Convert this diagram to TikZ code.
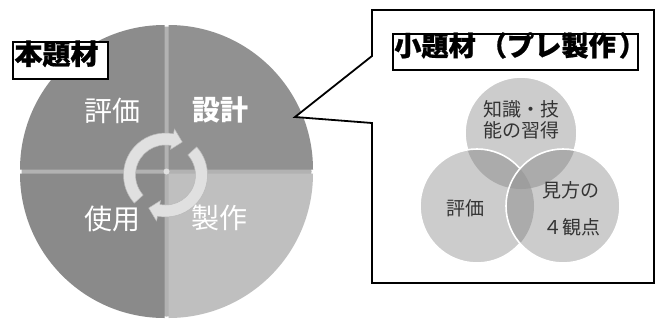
\documentclass[tikz,border=0pt]{standalone}
\usepackage{fontspec}
\setmainfont{Noto Sans CJK JP}
\newfontfamily\heavyjp{Noto Sans CJK JP}[BoldFeatures={FakeBold=0.8}]
\definecolor{qtl}{gray}{0.55}
\definecolor{qtr}{gray}{0.57}
\definecolor{qbl}{gray}{0.54}
\definecolor{qbr}{gray}{0.75}
\definecolor{qgap}{gray}{0.70}
\definecolor{arrowc}{gray}{0.88}
\definecolor{arrowe}{gray}{0.72}
\definecolor{vone}{gray}{0.80}
\definecolor{vtwo}{gray}{0.67}
\definecolor{vthree}{gray}{0.62}
\definecolor{vtext}{gray}{0.2}
\tikzset{
  cjk/.style={inner sep=0pt, text height=0.88em, text depth=0.12em},
  biglbl/.style={cjk, text=white, font=\fontsize{28}{30}\selectfont},
  ttl/.style={cjk, text=black, font=\fontsize{28}{30}\selectfont\heavyjp\bfseries},
  frame/.style={draw=black, line width=1.2pt, fill=white, inner sep=0pt},
  vlbl/.style={cjk, text=vtext, font=\fontsize{19}{21}\selectfont},
  cyc/.style={fill=arrowc, draw=arrowe, line width=0.5pt, line join=round},
}
\begin{document}
\begin{tikzpicture}[x=1pt,y=1pt]
\useasboundingbox (0,0) rectangle (656,-322);
\fill[white] (0,0) rectangle (656,-322);
% main circle
\fill[qgap] (166.5,-171.5) circle (145);
\fill[qtl] (164.5,-169.5) -- ++(180:144.5) arc[start angle=180,end angle=90,radius=144.5] -- cycle;
\fill[qtr] (168.5,-169.5) -- ++(90:144.5) arc[start angle=90,end angle=0,radius=144.5] -- cycle;
\fill[qbl] (164.5,-173.5) -- ++(180:144.5) arc[start angle=180,end angle=270,radius=144.5] -- cycle;
\fill[qbr] (168.5,-173.5) -- ++(0:144.5) arc[start angle=0,end angle=-90,radius=144.5] -- cycle;
\fill[white, fill opacity=0.6] (166.5,-171.5) circle (3);
% cycle arrows
\begin{scope}[shift={(165.5,-175)}]
  \path[cyc] (222:42) arc[start angle=222,end angle=79,radius=42] -- (79:47) -- (63:37) -- (79:26) -- (79:30) arc[start angle=79,end angle=222,radius=30] -- cycle;
  \path[cyc] (42:42) arc[start angle=42,end angle=-101,radius=42] -- (-101:47) -- (-117:37) -- (-101:26) -- (-101:30) arc[start angle=-101,end angle=42,radius=30] -- cycle;
\end{scope}
% quadrant labels
\node[biglbl] (hyoka) at (112,-117.5) {評価};
\node[biglbl, font=\fontsize{28}{30}\selectfont\bfseries] (sekkei) at (220,-117) {設計};
\node[biglbl] (shiyo) at (112,-226) {使用};
\node[biglbl] (seisaku) at (219,-225) {製作};
% title box 1
\node[frame, minimum width=95pt, minimum height=37pt] (honbox) at (60.5,-60.5) {};
\node[ttl] (hon) at (56.5,-60.5) {本題材};
% callout
\draw[line width=1.8pt, fill=white, line join=miter] (372,-56) -- (372,-10) -- (654,-10) -- (654,-283) -- (372,-283) -- (372,-123) -- (295,-117) -- cycle;
% title box 2
\node[frame, minimum width=245pt, minimum height=36pt] (shobox) at (515.5,-52) {};
\node[ttl, font=\fontsize{27.2}{29}\selectfont\heavyjp\bfseries, anchor=west] (sho) at (394,-52) {小題材\kern4pt（プレ製作\kern3pt）};
% venn
\coordinate (vt) at (521,-133);
\coordinate (vl) at (477,-206);
\coordinate (vr) at (563,-206);
\fill[vone] (vt) circle (56);
\fill[vone] (vl) circle (57);
\fill[vone] (vr) circle (57);
\begin{scope}\clip (vt) circle (56); \fill[vtwo] (vl) circle (57); \fill[vtwo] (vr) circle (57); \end{scope}
\begin{scope}\clip (vl) circle (57); \fill[vtwo] (vr) circle (57); \end{scope}
\begin{scope}\clip (vt) circle (56); \clip (vl) circle (57); \fill[vthree] (vr) circle (57); \end{scope}
\begin{scope}[even odd rule]
  \clip (400,0) rectangle (656,-322) (vl) circle (57);
  \begin{scope}[even odd rule]
    \clip (400,0) rectangle (656,-322) (vr) circle (57);
    \draw[white, line width=1.6pt] (vt) circle (56);
  \end{scope}
\end{scope}
\begin{scope}[even odd rule]
  \clip (400,0) rectangle (656,-322) (vr) circle (57);
  \draw[white, line width=1.6pt] (vl) circle (57);
\end{scope}
\draw[white, line width=1.6pt] (vr) circle (57);
\node[vlbl] (chi1) at (521.7,-112.5) {知識・技};
\node[vlbl] (chi2) at (521.7,-133.3) {能の習得};
\node[vlbl] (vhyoka) at (465.8,-211.7) {評価};
\node[vlbl] (mi1) at (570.8,-193.3) {見方の};
\node[vlbl] (mi2) at (571.7,-230.8) {４観点};
\end{tikzpicture}
\end{document}
